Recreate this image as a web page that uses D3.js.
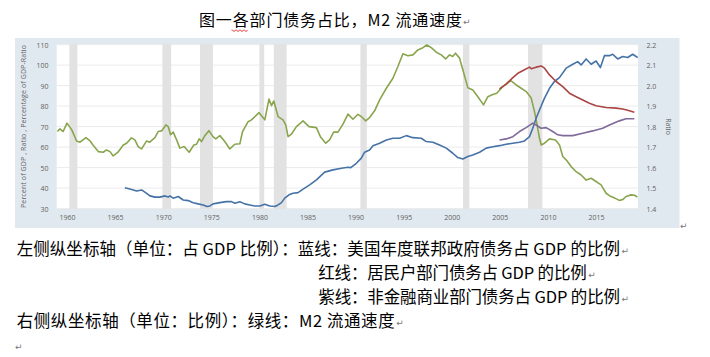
<!DOCTYPE html>
<html><head><meta charset="utf-8">
<script src="https://cdn.jsdelivr.net/npm/d3@7"></script>
<style>body{margin:0;background:#fff;overflow:hidden}</style>
</head><body><svg id="c" width="710" height="357"></svg>
<script>
// ---------- data ----------
const xTicks = [1960,1965,1970,1975,1980,1985,1990,1995,2000,2005,2010,2015];
const leftTicks = [30,40,50,60,70,80,90,100,110];
const rightTicks = [1.4,1.5,1.6,1.7,1.8,1.9,2.0,2.1,2.2];
const recessions = [[1960.25,1961.08],[1969.92,1970.83],[1973.83,1975.17],[1980.0,1980.5],[1981.5,1982.83],[1990.5,1991.17],[2001.17,2001.83],[2007.92,2009.42]];

// green: M2 velocity (right axis, ratio)
const m2Years = [1959.0,1959.27,1959.6,1960.0,1960.5,1961.0,1961.35,1961.97,1962.4,1962.7,1963.25,1963.77,1964.1,1964.47,1964.8,1965.3,1965.85,1966.2,1966.7,1967.06,1967.4,1967.76,1968.28,1968.6,1969.14,1969.48,1969.83,1970.28,1970.52,1970.77,1971.04,1971.4,1971.73,1972.18,1972.7,1973.19,1973.47,1973.74,1973.99,1974.33,1974.75,1975.2,1975.47,1975.89,1976.4,1976.93,1977.45,1977.97,1978.25,1978.83,1979.18,1979.97,1980.56,1981.0,1981.26,1981.5,1981.94,1982.46,1982.74,1982.98,1983.33,1983.85,1984.54,1985.16,1985.93,1986.34,1986.9,1987.3,1987.72,1988.17,1988.69,1989.21,1989.73,1990.25,1990.6,1991.05,1991.46,1991.98,1992.5,1993.2,1993.88,1994.4,1994.92,1995.44,1995.96,1996.48,1997.0,1997.41,1997.87,1998.39,1998.91,1999.36,1999.77,2000.1,2000.39,2000.81,2001.15,2001.67,2002.19,2002.71,2003.3,2003.75,2004.2,2004.68,2005.3,2006.0,2006.17,2006.7,2007.22,2007.74,2008.26,2008.6,2008.84,2009.12,2009.3,2009.64,2010.16,2010.78,2011.2,2011.54,2011.89,2012.41,2012.93,2013.45,2013.97,2014.49,2015.0,2015.52,2016.04,2016.5,2017.0,2017.42,2017.8,2018.12,2018.64,2019.0,2019.3];
const m2Velocity = [1.776,1.789,1.776,1.817,1.784,1.730,1.724,1.746,1.730,1.710,1.678,1.675,1.686,1.678,1.657,1.675,1.710,1.719,1.745,1.735,1.702,1.691,1.730,1.724,1.746,1.776,1.779,1.808,1.800,1.760,1.773,1.735,1.695,1.703,1.675,1.710,1.714,1.740,1.727,1.756,1.780,1.750,1.740,1.756,1.727,1.691,1.714,1.716,1.776,1.824,1.833,1.868,1.833,1.934,1.902,1.925,1.849,1.833,1.808,1.751,1.763,1.800,1.828,1.800,1.795,1.751,1.719,1.735,1.773,1.773,1.812,1.861,1.836,1.860,1.849,1.828,1.844,1.877,1.930,1.987,2.036,2.093,2.155,2.146,2.150,2.174,2.185,2.198,2.185,2.163,2.150,2.130,2.150,2.142,2.158,2.134,2.077,1.990,1.979,1.946,1.906,1.946,1.955,1.963,1.995,2.020,2.023,2.003,1.987,1.971,1.939,1.873,1.817,1.743,1.710,1.719,1.740,1.735,1.710,1.654,1.638,1.605,1.580,1.564,1.539,1.548,1.532,1.516,1.475,1.460,1.450,1.440,1.445,1.459,1.467,1.465,1.456];

// blue: federal debt % of GDP
const fedYears = [1966.02,1966.54,1967.24,1967.76,1968.28,1968.62,1969.14,1969.66,1970.18,1970.52,1970.7,1971.04,1971.56,1972.08,1972.6,1973.12,1973.63,1974.15,1974.57,1974.85,1975.19,1975.89,1976.58,1977.1,1977.45,1977.97,1978.48,1979.0,1979.52,1980.04,1980.56,1981.08,1981.6,1981.94,1982.3,1982.64,1983.08,1983.5,1984.02,1984.54,1985.23,1985.93,1986.79,1987.65,1988.53,1989.21,1989.5,1990.08,1990.6,1990.94,1991.46,1991.81,1992.5,1993.2,1993.88,1994.58,1995.28,1995.96,1996.83,1997.35,1998.04,1998.73,1999.43,2000.11,2000.63,2001.15,2001.67,2002.19,2002.89,2003.58,2004.27,2004.96,2005.66,2006.35,2007.04,2007.56,2008.08,2008.42,2008.77,2009.12,2009.64,2010.16,2010.67,2011.19,2011.89,2012.58,2013.09,2013.45,2013.97,2014.49,2015.0,2015.45,2015.87,2016.39,2016.73,2017.25,2017.77,2018.29,2018.81,2019.33];
const fedDebt = [40.2,39.6,38.6,39.1,37.4,36.2,35.6,35.6,36.2,35.6,36.2,35.1,35.9,34.2,33.9,32.9,32.3,31.8,31.0,31.3,32.3,32.9,33.4,33.4,32.6,33.3,32.3,31.8,31.3,31.3,32.1,31.3,31.0,31.8,32.9,35.1,36.7,37.5,37.8,39.5,41.6,44.0,47.8,48.9,49.7,50.2,50.0,52.1,54.6,57.5,58.6,60.7,61.9,63.5,64.3,64.3,65.6,64.6,64.3,62.7,62.4,61.0,59.5,57.0,54.9,54.2,55.4,56.2,57.5,59.5,60.2,60.7,61.4,61.9,62.4,63.0,65.1,69.2,74.1,78.1,83.9,88.7,92.0,93.9,98.5,100.4,101.7,100.1,103.0,100.4,102.0,98.8,104.6,104.6,105.3,103.0,104.2,103.7,105.3,103.7];

// red: household debt % of GDP
const hhYears = [2004.96,2005.66,2006.35,2006.87,2007.56,2008.08,2008.26,2008.77,2009.29,2009.64,2010.16,2010.85,2011.54,2012.23,2012.93,2013.62,2014.31,2015.0,2016.04,2017.08,2017.77,2018.47,2018.98];
const hhDebt = [88.4,90.7,93.9,96.0,97.7,99.0,98.2,99.0,99.6,98.5,95.2,92.0,89.5,86.3,84.6,83.0,81.4,80.2,79.3,79.0,78.6,77.7,77.0];

// purple: nonfinancial corporate debt % of GDP
const corpYears = [2004.96,2005.66,2006.35,2007.04,2007.73,2008.42,2008.77,2009.29,2009.81,2010.5,2011.02,2011.54,2012.58,2013.62,2014.65,2015.69,2016.39,2017.42,2018.12,2018.98];
const corpDebt = [63.5,64.0,65.1,67.6,69.5,71.7,70.8,69.2,69.5,67.6,66.0,65.6,65.6,66.8,67.9,69.2,70.8,72.8,73.8,73.8];

const titleText = "图一各部门债务占比，M2 流通速度";
const noteLines = [
  "左侧纵坐标轴（单位：占 GDP 比例）：蓝线：美国年度联邦政府债务占 GDP 的比例",
  "红线：居民户部门债务占 GDP 的比例",
  "紫线：非金融商业部门债务占 GDP 的比例",
  "右侧纵坐标轴（单位：比例）：绿线：M2 流通速度"
];
const leftAxisTitle = "Percent of GDP , Ratio , Percentage of GDP-Ratio";
const rightAxisTitle = "Ratio";

// ---------- drawing ----------
const svg = d3.select("#c");
const CJK = "'Noto Sans CJK SC','Noto Sans',sans-serif";
const AX = "'Open Sans','DejaVu Sans',sans-serif";

// title
svg.append("text").attr("x",199).attr("y",26).attr("font-family",CJK).attr("font-size",16)
  .attr("fill","#000").attr("textLength",263).attr("lengthAdjust","spacing").text(titleText);
svg.append("text").attr("x",463).attr("y",25).attr("font-family","'DejaVu Sans'").attr("font-size",9).attr("fill","#777").text("↵");
// spell-check squiggle under 各
const sq = d3.range(0,17,1).map(i=>[231.5+i, 30 + (i%4<2 ? 0 : 1.3)]);
svg.append("path").attr("d",d3.line()(sq)).attr("fill","none").attr("stroke","#e03030").attr("stroke-width",0.9);

// panel
const P = {x0:15, y0:38, x1:679.5, y1:228};
svg.append("rect").attr("x",P.x0).attr("y",P.y0).attr("width",P.x1-P.x0).attr("height",P.y1-P.y0).attr("fill","#e1e9f0");
svg.append("text").attr("x",680).attr("y",229).attr("font-family","'DejaVu Sans'").attr("font-size",9).attr("fill","#777").text("↵");

const plot = {l:56.7, r:638, t:44, b:209};
svg.append("rect").attr("x",plot.l).attr("y",plot.t).attr("width",plot.r-plot.l).attr("height",plot.b-plot.t).attr("fill","#fff");

const x = d3.scaleLinear().domain([1958.93,2019.36]).range([plot.l, plot.r]);
const yL = d3.scaleLinear().domain([30,110]).range([208.6,44.6]);
const yR = d3.scaleLinear().domain([1.4,2.2]).range([208.6,44.6]);

const g = svg.append("g");
// grid
g.selectAll(".grid").data(leftTicks).join("line")
  .attr("x1",plot.l).attr("x2",plot.r).attr("y1",d=>yL(d)).attr("y2",d=>yL(d))
  .attr("stroke","#ebebeb").attr("stroke-width",1);
// recessions
g.selectAll(".rec").data(recessions).join("rect")
  .attr("x",d=>x(d[0])).attr("width",d=>x(d[1])-x(d[0])).attr("y",plot.t).attr("height",plot.b-plot.t)
  .attr("fill","#e2e2e2");

// axes
const axL = svg.append("g").attr("transform",`translate(${48.5},0)`)
  .call(d3.axisLeft(yL).tickValues(leftTicks).tickSize(0).tickPadding(0).tickFormat(d3.format("d")));
const axR = svg.append("g").attr("transform",`translate(${646.5},0)`)
  .call(d3.axisRight(yR).tickValues(rightTicks).tickSize(0).tickPadding(0).tickFormat(d3.format(".1f")));
const axB = svg.append("g").attr("transform",`translate(0,${215})`)
  .call(d3.axisBottom(x).tickValues(xTicks).tickSize(0).tickPadding(0).tickFormat(d3.format("d")));
[axL,axR,axB].forEach(a=>{
  a.select(".domain").remove();
  a.selectAll("text").attr("font-family",AX).attr("font-size",7).attr("fill","#5f5f5f");
});
axL.selectAll("text").attr("dy","0.35em");
axR.selectAll("text").attr("dy","0.35em");
axB.selectAll("text").attr("dy","0.71em");

svg.append("text").attr("transform",`translate(25.5,${(plot.t+plot.b)/2}) rotate(-90)`)
  .attr("text-anchor","middle").attr("font-family",AX).attr("font-size",7).attr("fill","#5f5f5f")
  .attr("textLength",163).attr("lengthAdjust","spacing").text(leftAxisTitle);
svg.append("text").attr("transform",`translate(666,${(plot.t+plot.b)/2}) rotate(90)`)
  .attr("text-anchor","middle").attr("font-family",AX).attr("font-size",7).attr("fill","#5f5f5f")
  .text(rightAxisTitle);

// lines
const clip = svg.append("clipPath").attr("id","pc").append("rect")
  .attr("x",plot.l).attr("y",plot.t).attr("width",plot.r-plot.l).attr("height",plot.b-plot.t);
const lines = svg.append("g").attr("clip-path","url(#pc)");
function drawLine(xs, ys, yScale, color){
  const pts = xs.map((d,i)=>[d, ys[i]]);
  lines.append("path").datum(pts)
    .attr("d", d3.line().x(d=>x(d[0])).y(d=>yScale(d[1])))
    .attr("fill","none").attr("stroke",color).attr("stroke-width",1.6).attr("stroke-linejoin","round");
}
drawLine(m2Years, m2Velocity, yR, "#89a54e");
drawLine(fedYears, fedDebt, yL, "#4572a7");
drawLine(hhYears, hhDebt, yL, "#aa4643");
drawLine(corpYears, corpDebt, yL, "#80699b");

// notes below
const noteLayout = [
  {x:16.7, y:255, w:603.3},
  {x:318.3, y:279, w:268.4},
  {x:318.3, y:303, w:301.7},
  {x:16.7, y:327, w:378}
];
noteLines.forEach((t,i)=>{
  const L = noteLayout[i];
  svg.append("text").attr("x",L.x).attr("y",L.y).attr("font-family",CJK).attr("font-size",16.5)
    .attr("fill","#000").attr("textLength",L.w).attr("lengthAdjust","spacing").text(t);
  svg.append("text").attr("x",L.x+L.w+1.5).attr("y",L.y-1).attr("font-family","'DejaVu Sans'")
    .attr("font-size",9).attr("fill","#777").text("↵");
});
svg.append("text").attr("x",15).attr("y",350).attr("font-family","'DejaVu Sans'").attr("font-size",9).attr("fill","#777").text("↵");
</script>
</body></html>
